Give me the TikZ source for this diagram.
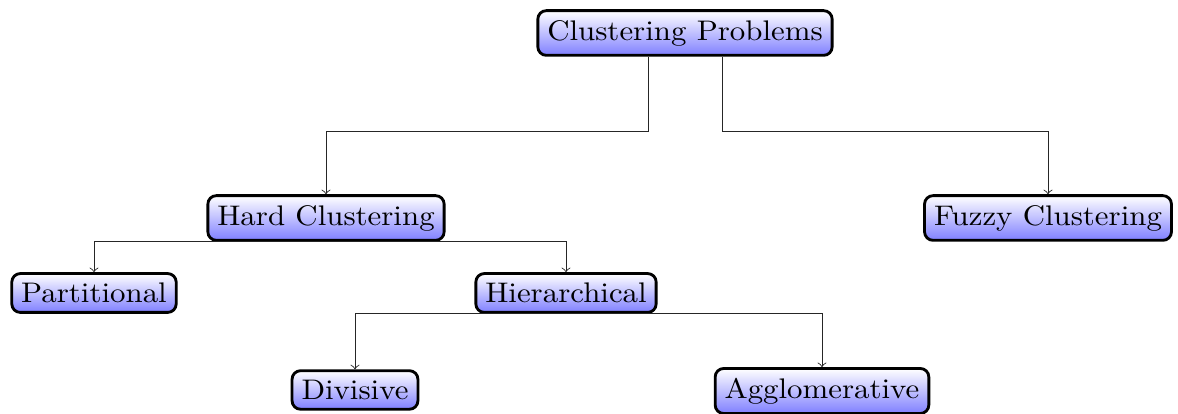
\documentclass[tikz,border=0pt]{standalone}
\usepackage{fontspec}
\setmainfont{Latin Modern Roman}[FakeStretch=1.09]
\usepackage{tikz}

\tikzset{
  box/.style={draw, line width=1pt, rounded corners=3pt, top color=white, bottom color=blue!50, font=\normalsize},
  link/.style={->, line width=0.3pt, black!85}
}

\begin{document}
\begin{tikzpicture}[x=0.353pt,y=-0.353pt]
\useasboundingbox (0,0) rectangle (1178,414);
\node[box] (root) at (685,33) {Clustering Problems};
\node[box] (hard) at (326,218) {Hard Clustering};
\node[box] (fuzzy) at (1048,218) {Fuzzy Clustering};
\node[box] (part) at (94,293) {Partitional};
\node[box] (hier) at (566,293) {Hierarchical};
\node[box] (div) at (355,390) {Divisive};
\node[box] (agg) at (822,391) {Agglomerative};
\coordinate (bus) at (685,131);
% top level
\draw[link] ([xshift=-13.06pt]root.south) |- (bus -| hard.north) -- (hard.north);
\draw[link] ([xshift=13.06pt]root.south) |- (bus -| fuzzy.north) -- (fuzzy.north);
% hard clustering
\draw[link] (hard.south) -| (part.north);
\draw[link] (hard.south) -| (hier.north);
% hierarchical
\draw[link] (hier.south) -| (div.north);
\draw[link] (hier.south) -| (agg.north);
\end{tikzpicture}
\end{document}
